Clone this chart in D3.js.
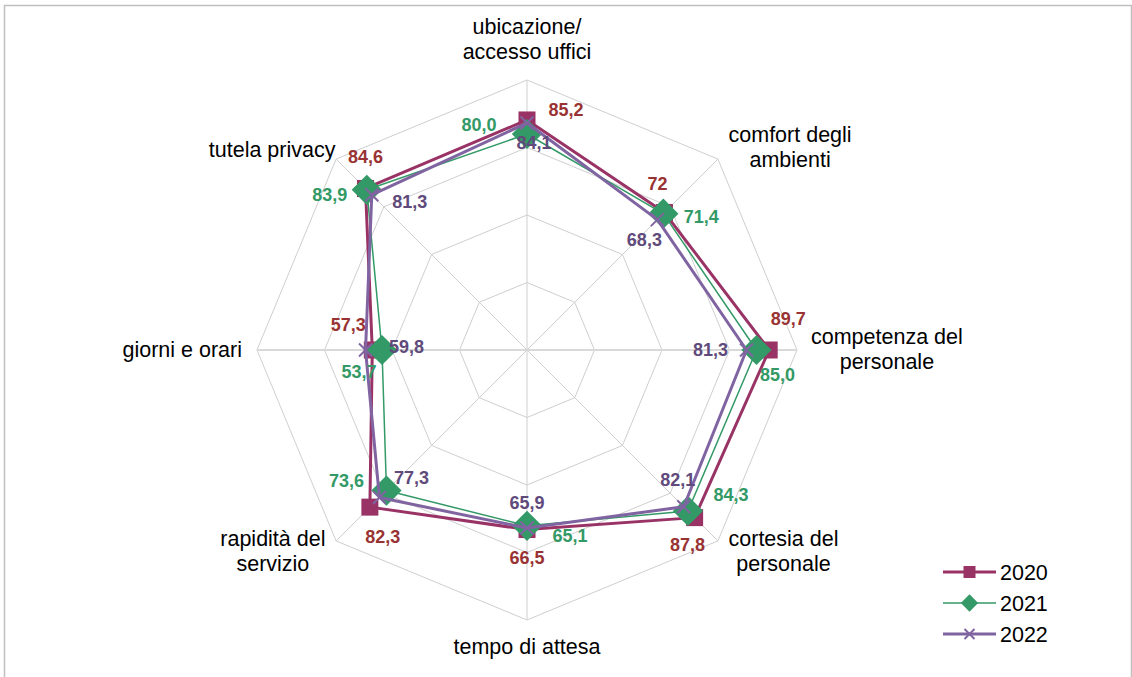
<html lang="it">
<head>
    <meta charset="utf-8">
    <title>Giudizi per aspetto del servizio</title>
    <style>
        body {
            margin: 0;
            background: white;
            font-family: "Liberation Sans", Arial, sans-serif;
        }

        .grid {
            fill: none;
            stroke: #cfcfcf;
            stroke-width: 1;
        }

        .axis-label {
            font-size: 21.5px;
            fill: black;
        }

        .value-label {
            font-size: 18px;
            font-weight: bold;
        }

        .legend text {
            font-size: 21.5px;
            fill: black;
        }
    </style>
</head>
<body>
<svg id="chart" width="1132" height="677"></svg>
<script src="https://cdnjs.cloudflare.com/ajax/libs/d3/7.8.5/d3.min.js"></script>
<script>
    // categories, clockwise from the top
    const categories = [
        ["ubicazione/", "accesso uffici"],
        ["comfort degli", "ambienti"],
        ["competenza del", "personale"],
        ["cortesia del", "personale"],
        ["tempo di attesa"],
        ["rapidità del", "servizio"],
        ["giorni e orari"],
        ["tutela privacy"]
    ];

    const years = ["2020", "2021", "2022"];
    const values2020 = [85.2, 72, 89.7, 87.8, 66.5, 82.3, 57.3, 84.6];
    const values2021 = [80.0, 71.4, 85.0, 84.3, 65.1, 73.6, 53.7, 83.9];
    const values2022 = [84.1, 68.3, 81.3, 82.1, 65.9, 77.3, 59.8, 81.3];
    const labels2020 = ["85,2", "72", "89,7", "87,8", "66,5", "82,3", "57,3", "84,6"];
    const labels2021 = ["80,0", "71,4", "85,0", "84,3", "65,1", "73,6", "53,7", "83,9"];
    const labels2022 = ["84,1", "68,3", "81,3", "82,1", "65,9", "77,3", "59,8", "81,3"];
    const gridTicks = [25, 50, 75, 100];

    // data label offsets from their point (dragged by hand in the original)
    const labelShift2020 = [[39, -10], [-7, -29], [19, -31], [-7, 27], [0, 28], [13, 30], [-24, -25], [0, -32]];
    const labelShift2021 = [[-48, -9], [38, 3], [21, 25], [43, -16], [43, 10], [-40, -10], [-23, 22], [-37, 5]];
    const labelShift2022 = [[7, 20], [-13, 20], [-36, 0], [-6, -27], [0, -25], [32, -20], [41, -3], [38, 7]];
    // nudges for the category labels
    const categoryShift = [[0, 0], [0, 0], [-1, 0], [0, 0], [0, 0], [0, 0], [0, 0], [10, 2]];

    const series = [
        {name: years[0], values: values2020, labels: labels2020, shift: labelShift2020,
            color: "#993366", labelColor: "#993333", width: 3, marker: "square"},
        {name: years[1], values: values2021, labels: labels2021, shift: labelShift2021,
            color: "#339966", labelColor: "#339966", width: 1.5, marker: "diamond"},
        {name: years[2], values: values2022, labels: labels2022, shift: labelShift2022,
            color: "#8064a2", labelColor: "#604a7b", width: 3, marker: "cross"}
    ];

    const svg = d3.select("#chart");
    const cx = 527, cy = 350;
    const r = d3.scaleLinear().domain([0, 100]).range([0, 270]);
    const angle = d3.scaleLinear().domain([0, categories.length]).range([0, 2 * Math.PI]);

    function polar(i, radius)
    {
        const a = angle(i);
        return [cx + radius * Math.sin(a), cy - radius * Math.cos(a)];
    }

    // frame
    svg.append("rect")
        .attr("x", 4.5).attr("y", 5.5)
        .attr("width", 1127).attr("height", 700)
        .attr("fill", "none").attr("stroke", "#bfbfbf").attr("stroke-width", 1.5);

    // rings and spokes
    const grid = svg.append("g").attr("class", "grid");
    gridTicks.forEach(t =>
    {
        grid.append("polygon")
            .attr("points", categories.map((c, i) => polar(i, r(t)).join(",")).join(" "));
    });
    categories.forEach((c, i) =>
    {
        const [x, y] = polar(i, r(100));
        const horizontal = Math.abs(Math.sin(angle(i))) > 0.99;
        grid.append("line")
            .attr("x1", cx).attr("y1", cy).attr("x2", x).attr("y2", y)
            .attr("stroke-width", horizontal ? 2 : 1)
            .attr("stroke", horizontal ? "#d9d9d9" : null);
    });

    // category labels
    const lineHeight = 25;
    categories.forEach((lines, i) =>
    {
        const a = angle(i);
        const [px, py] = polar(i, r(100) + 15);
        const g = svg.append("g");
        const texts = lines.map(l => g.append("text").attr("class", "axis-label").text(l));
        const widths = texts.map(t => t.node().getComputedTextLength());
        const blockW = d3.max(widths);
        const blockH = lines.length * lineHeight;
        const s = Math.sin(a), c = Math.cos(a);
        let left = s > 0.01 ? px : (s < -0.01 ? px - blockW : px - blockW / 2);
        let top = c > 0.99 ? py - blockH : (c < -0.99 ? py : py - blockH / 2);
        left += categoryShift[i][0];
        top += categoryShift[i][1];
        texts.forEach((t, k) =>
        {
            t.attr("x", left + blockW / 2).attr("text-anchor", "middle")
                .attr("y", top + k * lineHeight + 19);
        });
    });

    function drawMarker(g, type, x, y, size, color)
    {
        if(type === "square")
        {
            g.append("rect").attr("x", x - size / 2).attr("y", y - size / 2)
                .attr("width", size).attr("height", size).attr("fill", color);
        }
        else if(type === "diamond")
        {
            const h = size * 0.72;
            g.append("path")
                .attr("d", `M${x},${y - h}L${x + h},${y}L${x},${y + h}L${x - h},${y}Z`)
                .attr("fill", color);
        }
        else
        {
            const h = size / 2;
            g.append("path")
                .attr("d", `M${x - h},${y - h}L${x + h},${y + h}M${x - h},${y + h}L${x + h},${y - h}`)
                .attr("stroke", color).attr("stroke-width", 2);
        }
    }

    const line = d3.lineRadial()
        .angle((d, i) => angle(i))
        .radius(d => r(d))
        .curve(d3.curveLinearClosed);

    const markerSize = {square: 17, diamond: 21, cross: 13};

    series.forEach(s =>
    {
        const g = svg.append("g");
        g.append("path")
            .attr("transform", `translate(${cx},${cy})`)
            .attr("d", line(s.values))
            .attr("fill", "none")
            .attr("stroke", s.color)
            .attr("stroke-width", s.width)
            .attr("stroke-linejoin", "round");
        s.values.forEach((v, i) =>
        {
            const [x, y] = polar(i, r(v));
            drawMarker(g, s.marker, x, y, markerSize[s.marker], s.color);
        });
    });

    // data labels on top
    series.forEach(s =>
    {
        s.values.forEach((v, i) =>
        {
            const [x, y] = polar(i, r(v));
            svg.append("text")
                .attr("class", "value-label")
                .attr("x", x + s.shift[i][0])
                .attr("y", y + s.shift[i][1])
                .attr("dy", "0.35em")
                .attr("text-anchor", "middle")
                .attr("fill", s.labelColor)
                .text(s.labels[i]);
        });
    });

    // legend
    const legend = svg.append("g").attr("class", "legend");
    const legendMarker = {square: 12, diamond: 12, cross: 10};
    series.forEach((s, k) =>
    {
        const y = 572 + k * 31;
        legend.append("line")
            .attr("x1", 943).attr("x2", 996).attr("y1", y).attr("y2", y)
            .attr("stroke", s.color).attr("stroke-width", s.width);
        drawMarker(legend, s.marker, 969.5, y, legendMarker[s.marker], s.color);
        legend.append("text").attr("x", 1000).attr("y", y + 8).text(s.name);
    });
</script>
</body>
</html>
